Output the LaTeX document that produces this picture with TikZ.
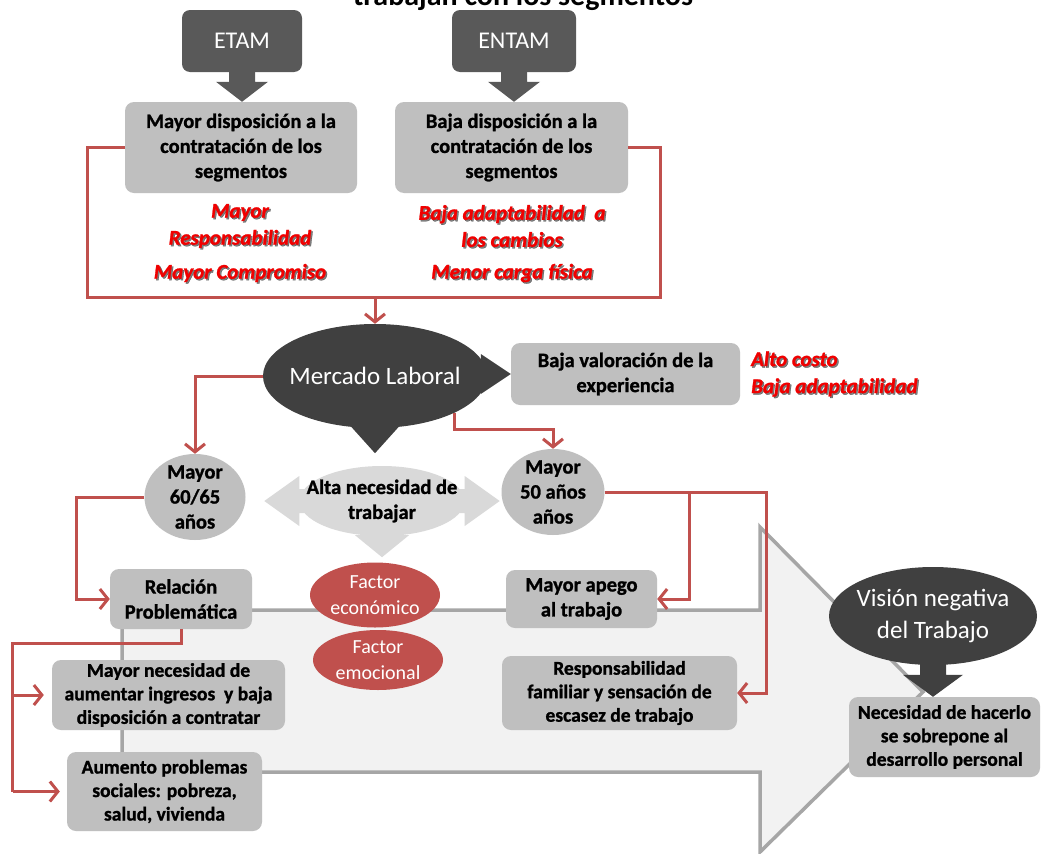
\documentclass[tikz,border=0pt]{standalone}
\usepackage{fontspec}
\setmainfont{Carlito}
\newfontfamily\heavyfont[BoldFeatures={FakeBold=1.2}, BoldItalicFeatures={FakeBold=1.2}]{Carlito}
\usetikzlibrary{arrows.meta,shapes.geometric,calc}

\definecolor{darkfill}{HTML}{595959}
\definecolor{ellfill}{HTML}{404040}
\definecolor{boxfill}{HTML}{BFBFBF}
\definecolor{altafill}{HTML}{D9D9D9}
\definecolor{linkred}{HTML}{C0504D}
\definecolor{labelred}{HTML}{F00000}
\definecolor{bgfill}{HTML}{F2F2F2}
\definecolor{bgline}{HTML}{A6A6A6}

\pgfdeclarelayer{canvas}
\pgfdeclarelayer{bg}
\pgfsetlayers{canvas,bg,main}

\tikzset{
  darkbox/.style={rectangle, rounded corners=8pt, fill=darkfill, text=white,
    inner sep=0pt, font=\fontsize{24}{28}\selectfont},
  graybox/.style={rectangle, rounded corners=9pt, fill=boxfill, align=center,
    inner sep=0pt, font=\heavyfont\bfseries\fontsize{20.5}{25}\selectfont},
  smallbox/.style={graybox, font=\heavyfont\bfseries\fontsize{19.5}{23.5}\selectfont},
  ellbase/.style={ellipse, inner sep=-20pt, align=center},
  darkell/.style={ellbase, fill=ellfill, text=white},
  grayell/.style={ellbase, fill=boxfill, font=\heavyfont\bfseries\fontsize{20.5}{25}\selectfont},
  redell/.style={ellbase, fill=linkred, text=white, font=\fontsize{20}{26}\selectfont},
  redtext/.style={text=labelred, align=center, inner sep=0pt,
    font=\heavyfont\bfseries\itshape\fontsize{21}{27}\selectfont},
  link/.style={draw=linkred, line width=3pt},
  linkarrow/.style={link, -{Straight Barb[length=8pt,width=20pt]}},
}

% red italic label with a soft drop shadow
\newcommand{\redlabel}[4][]{%
  \node[redtext, #1, text=black, opacity=.5] (#2-sh) at ($(#3)+(1.5,1.5)$) {#4};
  \node[redtext, #1] (#2) at (#3) {#4};}

% block arrow pointing down: style, base, tip, shaft half width, head half width, head length
\newcommand{\blockdown}[6]{%
  \fill[#1] ($(#2)+(-#4,0)$) -- ($(#3)+(-#4,-#6)$) -- ($(#3)+(-#5,-#6)$) -- (#3)
    -- ($(#3)+(#5,-#6)$) -- ($(#3)+(#4,-#6)$) -- ($(#2)+(#4,0)$) -- cycle;}
% block arrow pointing sideways: style, base, tip, shaft half width, head half width, signed head length
\newcommand{\blockside}[6]{%
  \fill[#1] ($(#2)+(0,-#4)$) -- ($(#3)+({-(#6)},-#4)$) -- ($(#3)+({-(#6)},-#5)$) -- (#3)
    -- ($(#3)+({-(#6)},#5)$) -- ($(#3)+({-(#6)},#4)$) -- ($(#2)+(0,#4)$) -- cycle;}

\begin{document}
\begin{tikzpicture}[x=1pt,y=-1pt]
\useasboundingbox (0,0) rectangle (1042,854);
\begin{pgfonlayer}{canvas}
  \fill[white] (0,0) rectangle (1042,854);
\end{pgfonlayer}
\begin{scope}
\clip (0,0) rectangle (1042,854);

% heading, only its lower part lies inside the page
\node[font=\bfseries\fontsize{30}{36}\selectfont, anchor=base, inner sep=0pt] (title) at (523,5) {trabajan con los segmentos};

% top row
\node[darkbox, minimum width=120pt, minimum height=62pt] (etam) at (242,41) {ETAM};
\node[darkbox, minimum width=124pt, minimum height=62pt] (entam) at (514,41) {ENTAM};
\node[graybox, minimum width=232pt, minimum height=91pt] (mdisp) at (241,147.5) {Mayor disposición a la\\contratación de los\\segmentos};
\node[graybox, minimum width=233pt, minimum height=91pt] (bdisp) at (511.5,147.5) {Baja disposición a la\\contratación de los\\segmentos};

\redlabel{respL}{240,226}{Mayor\\Responsabilidad}
\redlabel{compL}{240,273}{Mayor Compromiso}
\redlabel{adapR}{512,226}{Baja adaptabilidad\ \ a\\los cambios}
\redlabel{cargaR}{512,273}{Menor carga física}

% labour market
\node[darkell, minimum width=224pt, minimum height=104pt, font=\fontsize{25}{30}\selectfont] (merc) at (375,376) {Mercado Laboral};
\node[graybox, minimum width=229pt, minimum height=62pt] (bval) at (625.5,374) {Baja valoración de la\\experiencia};
\redlabel[anchor=west, align=left]{costo}{751,374}{Alto costo\\Baja adaptabilidad}

% age groups and need to work
\node[grayell, minimum width=101pt, minimum height=86pt] (m60) at (195,497) {Mayor\\60/65\\años};
\node[grayell, fill=altafill, minimum width=165pt, minimum height=70pt] (alta) at (382,501) {Alta necesidad de\\trabajar};
\node[grayell, minimum width=103pt, minimum height=86pt] (m50) at (553,492) {Mayor\\50 años\\años};

% big background arrow
\begin{pgfonlayer}{bg}
  \path[draw=bgline, fill=bgfill, line width=3.5pt, line join=miter]
    (122,610) -- (760,610) -- (760,527) -- (923,692) -- (760,852) -- (760,772) -- (122,772) -- cycle;
\end{pgfonlayer}

\node[graybox, minimum width=142pt, minimum height=60pt] (rel) at (181,599) {Relación\\Problemática};
\node[redell, minimum width=130pt, minimum height=65pt] (feco) at (375,595) {Factor\\económico};
\node[redell, minimum width=130pt, minimum height=60pt] (femo) at (378,660) {Factor\\emocional};
\node[graybox, minimum width=151pt, minimum height=58pt] (apego) at (581.5,599) {Mayor apego\\al trabajo};

\node[darkell, minimum width=208pt, minimum height=98pt, font=\fontsize{25}{32}\selectfont] (vis) at (933,616) {Visión negativa\\del Trabajo};

\node[smallbox, minimum width=233pt, minimum height=70pt] (mnec) at (168.5,695) {Mayor necesidad de\\aumentar ingresos\ \ y baja\\disposición a contratar};
\node[smallbox, minimum width=235pt, minimum height=74pt] (resp) at (619.5,693) {Responsabilidad\\familiar y sensación de\\escasez de trabajo};
\node[smallbox, minimum width=191pt, minimum height=80pt] (nec) at (944.5,737) {Necesidad de hacerlo\\se sobrepone al\\desarrollo personal};
\node[smallbox, minimum width=195pt, minimum height=79pt] (aum) at (164.5,791.5) {Aumento problemas\\sociales: pobreza,\\salud, vivienda};

% block arrows, behind the shapes they leave
\begin{pgfonlayer}{bg}
  \coordinate (etamTip) at (etam.south |- mdisp.north);
  \blockdown{darkfill}{etam.center}{etamTip}{13}{26}{20}
  \coordinate (entamTip) at (entam.south |- bdisp.north);
  \blockdown{darkfill}{entam.center}{entamTip}{13}{26}{20}
  \coordinate (mercR) at (merc.center |- bval.west);
  \blockside{ellfill}{mercR}{bval.west}{10}{20}{30}
  \coordinate (mercD) at ($(merc.south)+(0,25)$);
  \blockdown{ellfill}{merc.center}{mercD}{14}{27}{30}
  \coordinate (altaL) at ($(alta.west)+(-35,0)$);
  \blockside{altafill}{alta.center}{altaL}{12}{25}{-35}
  \coordinate (altaR) at ($(alta.east)+(35,0)$);
  \blockside{altafill}{alta.center}{altaR}{12}{25}{35}
  \coordinate (altaD) at ($(alta.south)+(0,21)$);
  \blockdown{altafill}{alta.center}{altaD}{13}{27}{22}
  \coordinate (visD) at (vis.center |- nec.north);
  \blockdown{ellfill}{vis.center}{visD}{13}{30}{22}
\end{pgfonlayer}

% red connectors
\coordinate (jtop) at ($(merc.north)+(0,-26)$);
\draw[link] (mdisp.west) -- ++(-37,0) |- (jtop);
\draw[link] (bdisp.east) -- ++(32,0) |- (jtop);
\draw[linkarrow] (jtop) -- (merc.north);

\draw[linkarrow] (merc.west) -| (m60.north);
\draw[linkarrow] (merc.-25) -- ++(0,17) -| (m50.north);

\draw[linkarrow] (m60.west) -- ++(-68,0) |- (rel.west);

\coordinate (br) at ($(m50.east)+(85,0)$);
\draw[linkarrow] (m50.east) -- ++(162,0) |- (resp.east);
\draw[linkarrow] (br) |- (apego.east);

\coordinate (lrail) at ($(aum.west)+(-54,0)$);
\draw[link] (rel.south) -- ++(0,14) -| (lrail);
\draw[linkarrow, shorten >=7pt] (lrail) -- (aum.west);
\draw[linkarrow, shorten >=8pt] (lrail |- mnec.west) -- (mnec.west);
\end{scope}
\end{tikzpicture}
\end{document}
